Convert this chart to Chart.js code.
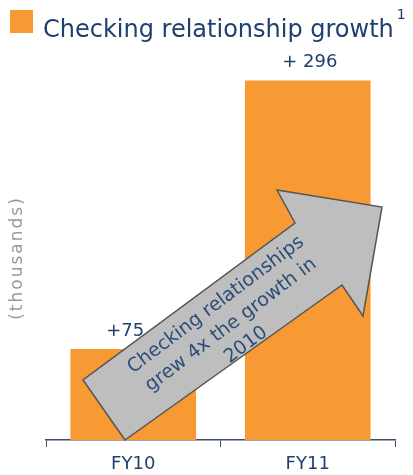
<!DOCTYPE html>
<html>
<head>
<meta charset="utf-8">
<script src="https://cdn.jsdelivr.net/npm/chart.js@4.4.0/dist/chart.umd.min.js"></script>
<style>
  html, body { margin: 0; padding: 0; background: #fff; }
  #wrap { width: 413px; height: 475px; }
</style>
</head>
<body>
<div id="wrap"><canvas id="myChart"></canvas></div>
<script>
const years = ['FY10', 'FY11'];
const growth = [75, 296];
const valueLabels = ['+75', '+ 296'];
const seriesName = 'Checking relationship growth';
const arrowLines = ['Checking relationships', 'grew 4x the growth in', '2010'];

const navy = '#1f3f6e';
const orange = '#f79a33';
Chart.defaults.font.family = "'DejaVu Sans', Verdana, sans-serif";

// header key, value labels, growth arrow, unit label
const extras = {
  id: 'extras',
  afterDatasetsDraw(chart) {
    const c = chart.ctx;
    const meta = chart.getDatasetMeta(0);
    c.save();

    // key + title
    c.fillStyle = orange;
    c.fillRect(10, 10, 23, 23);
    c.fillStyle = navy;
    c.font = "24px 'DejaVu Sans'";
    c.textBaseline = 'alphabetic';
    c.fillText(seriesName, 43, 37);
    const w = c.measureText(seriesName).width;
    c.font = "14px 'DejaVu Sans'";
    c.fillText('1', 43 + w + 3, 19);

    c.fillStyle = navy;
    c.font = "18px 'DejaVu Sans'";
    c.textAlign = 'center';
    c.textBaseline = 'bottom';
    meta.data.forEach((bar, i) => {
      const dx = i === 0 ? -8 : 2;
      c.fillText(valueLabels[i], bar.x + dx, bar.y - 9);
    });

    // arrow
    const a = chart.chartArea;
    const L = a.left, B = a.bottom;
    const pts = [[79, 0], [37, -60], [249, -217], [231, -250], [336, -233], [317, -124], [296, -155]];
    c.beginPath();
    pts.forEach((p, i) => {
      if (i === 0) c.moveTo(L + p[0], B + p[1]);
      else c.lineTo(L + p[0], B + p[1]);
    });
    c.closePath();
    c.fillStyle = '#bebebe';
    c.fill();
    c.strokeStyle = '#555';
    c.lineWidth = 1.5;
    c.stroke();

    c.save();
    c.translate(L + 185, B - 115);
    c.rotate(-37 * Math.PI / 180);
    c.fillStyle = '#2b4d7a';
    c.font = "19px 'DejaVu Sans'";
    c.textBaseline = 'middle';
    arrowLines.forEach((t, i) => c.fillText(t, 0, (i - 1) * 25));
    c.restore();

    // unit label
    c.save();
    c.translate(18, 258);
    c.rotate(-Math.PI / 2);
    c.fillStyle = '#9a9a9a';
    c.font = "17px 'DejaVu Sans'";
    c.letterSpacing = '2px';
    c.textBaseline = 'middle';
    c.fillText('(thousands)', 0, 0);
    c.restore();
    c.restore();
  }
};

new Chart(document.getElementById('myChart'), {
  type: 'bar',
  data: {
    labels: years,
    datasets: [{
      label: seriesName,
      data: growth,
      backgroundColor: orange,
      barPercentage: 0.72,
      categoryPercentage: 1
    }]
  },
  options: {
    responsive: true,
    maintainAspectRatio: false,
    animation: false,
    layout: { padding: { left: 0, right: 18, top: 44, bottom: 0 } },
    plugins: {
      legend: { display: false },
      tooltip: { enabled: false }
    },
    scales: {
      x: {
        afterFit(scale) { scale.height = 35; },
        grid: { drawOnChartArea: false, tickLength: 7, color: '#3b5064' },
        border: { color: '#3b5064', width: 1.5 },
        ticks: { color: navy, font: { size: 18 }, padding: 7 }
      },
      y: {
        min: 0,
        max: 326,
        afterFit(scale) { scale.width = 46; },
        grid: { display: false },
        border: { display: false },
        ticks: { display: false }
      }
    }
  },
  plugins: [extras]
});
</script>
</body>
</html>
